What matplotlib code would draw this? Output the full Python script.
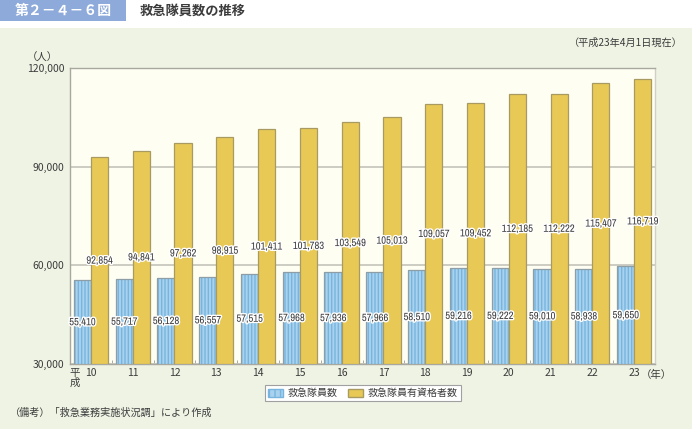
import matplotlib
matplotlib.use("Agg")
import matplotlib.pyplot as plt
import matplotlib.patches as mpatches
import matplotlib.patheffects as pe
from matplotlib import font_manager as fm
import numpy as np

plt.rcParams['font.family'] = ['Noto Sans CJK JP', 'DejaVu Sans']

# data
years = ['10', '11', '12', '13', '14', '15', '16', '17', '18', '19', '20', '21', '22', '23']
members = [55410, 55717, 56128, 56557, 57515, 57968, 57936, 57966, 58510, 59216, 59222, 59010, 58938, 59650]
qualified = [92854, 94841, 97262, 98915, 101411, 101783, 103549, 105013, 109057, 109452, 112185, 112222, 115407, 116719]
series_names = ['救急隊員数', '救急隊員有資格者数']
yticks = [30000, 60000, 90000, 120000]

blue = '#A8D2EE'
blue_stripe = '#78B4DE'
yellow = '#E8C956'
panel = '#EEF3E4'
txt = '#3C3C3C'

# narrow regular font for the value labels if one is installed
cond = [f.fname for f in fm.fontManager.ttflist
        if ('Condensed' in f.fname or 'Narrow' in f.fname)
        and not any(k in f.fname for k in ('Bold', 'Oblique', 'Italic'))]
cond.sort(key=lambda p: ('Narrow' not in p, p))
if cond:
    lab_font = fm.FontProperties(fname=cond[0], size=7.6)
else:
    lab_font = fm.FontProperties(family='Noto Sans CJK JP', size=6.3)

fig = plt.figure(figsize=(6.92, 4.29), dpi=100)
fig.patch.set_facecolor('white')

# green background panel + title box
fig.add_artist(mpatches.Rectangle((0, 0), 1, 1 - 28 / 429, transform=fig.transFigure,
                                  facecolor=panel, edgecolor='none', zorder=-5))
fig.add_artist(mpatches.Rectangle((0, 1 - 21 / 429), 126 / 692, 21 / 429, transform=fig.transFigure,
                                  facecolor='#8DAADA', edgecolor='none', zorder=-5))
fig.text(63 / 692, 1 - 11 / 429, '第２－４－６図', color='white', fontsize=10, fontweight='bold',
         ha='center', va='center')
fig.text(140 / 692, 1 - 11 / 429, '救急隊員数の推移', color=txt, fontsize=9.5, fontweight='bold',
         ha='left', va='center')
fig.text(683 / 692, 1 - 43 / 429, '（平成23年4月1日現在）', color=txt, fontsize=7.3, ha='right', va='center')
fig.text(10 / 692, 1 - 413 / 429, '（備考）「救急業務実施状況調」により作成', color=txt, fontsize=7.3,
         ha='left', va='center')

ax = fig.add_axes([70 / 692, 1 - 364 / 429, 585 / 692, 296 / 429])
ax.set_facecolor('#FEFEF2')

x = np.arange(len(years))
w = 0.41
ax.bar(x - w / 2, [m - 30000 for m in members], w, bottom=30000, color=blue,
       edgecolor=blue_stripe, hatch='|||||', linewidth=0, zorder=3)
ax.bar(x - w / 2, [m - 30000 for m in members], w, bottom=30000, color='none',
       edgecolor='#8E9EA6', linewidth=0.9, zorder=3)
ax.bar(x + w / 2, [q - 30000 for q in qualified], w, bottom=30000, color=yellow,
       edgecolor='#A89A60', linewidth=0.9, zorder=3)

stroke = [pe.withStroke(linewidth=2, foreground='white')]
for i in range(len(years)):
    ax.text(x[i] - w / 2, (30000 + members[i]) / 2, f'{members[i]:,}', ha='center', va='center',
            fontproperties=lab_font, color=txt, path_effects=stroke, zorder=5)
    ax.text(x[i] + w / 2, (30000 + qualified[i]) / 2, f'{qualified[i]:,}', ha='center', va='center',
            fontproperties=lab_font, color=txt, path_effects=stroke, zorder=5)

ax.set_xlim(-0.5, len(years) - 0.5)
ax.set_ylim(30000, 120000)
ax.set_yticks(yticks)
ax.set_yticklabels([f'{v:,}' for v in yticks], fontsize=7.5, color=txt)
ax.yaxis.grid(True, color='#C8C8BE', linewidth=1.3, zorder=1)
ax.set_axisbelow(True)
ax.tick_params(axis='y', length=0, pad=4)

ax.set_xticks(x)
ax.set_xticklabels(years, fontsize=7.5, color=txt)
ax.tick_params(axis='x', length=0, pad=3)
ax.set_xticks(np.arange(len(years) + 1) - 0.5, minor=True)
ax.tick_params(axis='x', which='minor', direction='in', length=3, color='#9A9A9A')

for s in ['left', 'bottom', 'top']:
    ax.spines[s].set_color('#A8A8A0')
    ax.spines[s].set_linewidth(1.0)
ax.spines['right'].set_color('#D0D0C8')
ax.spines['right'].set_linewidth(1.0)

ax.text(-0.02, 1.035, '（人）', transform=ax.transAxes, ha='right', va='center', fontsize=7.5, color=txt)
ax.text(x[0] - 0.38, 30000 - 1200, '平\n成', ha='center', va='top', fontsize=7.5, color=txt,
        linespacing=0.95)
ax.text(x[-1] + 0.17, 30000 - 3300, '（年）', ha='left', va='center', fontsize=7.5, color=txt)

handles = [mpatches.Patch(facecolor=blue, edgecolor=blue_stripe, hatch='|||'),
           mpatches.Patch(facecolor=yellow, edgecolor='#A89A60')]
leg = ax.legend(handles, series_names, loc='upper center', bbox_to_anchor=(0.5, -0.055), ncol=2,
                fontsize=7.2, frameon=True, fancybox=False, framealpha=1, edgecolor='#A0A0A0',
                handlelength=1.5, handleheight=0.9, handletextpad=0.5, columnspacing=1.0,
                borderpad=0.3)
leg.get_frame().set_linewidth(0.8)
for t in leg.get_texts():
    t.set_color(txt)

fig.savefig('out.png', dpi=100)
